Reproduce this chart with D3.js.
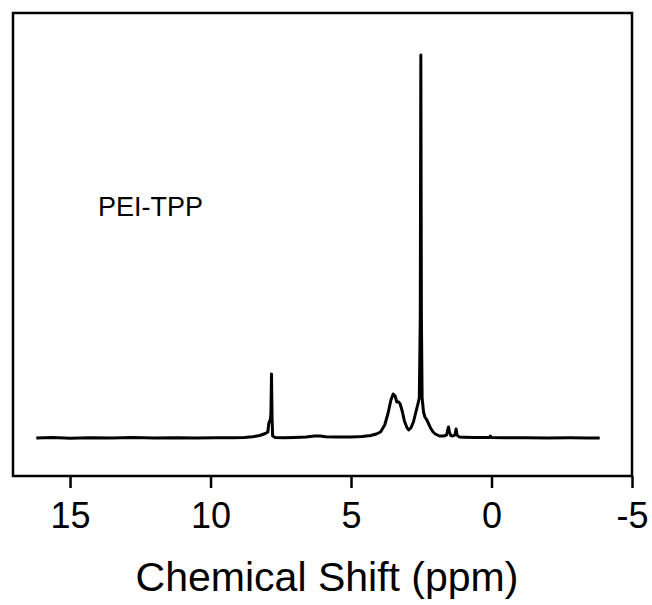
<!DOCTYPE html>
<html>
<head>
<meta charset="utf-8">
<script src="https://cdn.jsdelivr.net/npm/d3@7/dist/d3.min.js"></script>
<style>
  html, body { margin: 0; padding: 0; background: #fff; }
  svg { display: block; }
  text { font-family: "Liberation Sans", Arial, sans-serif; fill: #000; }
</style>
</head>
<body>
<svg id="chart" width="652" height="605"></svg>
<script>
// ---- data ----
const ppm = [16.2,15.6,15,14.3,13.5,12.8,12,11.2,10.5,9.8,9.2,8.8,8.5,8.25,8.05,7.96,7.93,7.9,7.87,7.85,7.83,7.81,7.79,7.7,7.4,7.0,6.6,6.3,6.1,5.9,5.5,5.0,4.6,4.3,4.1,3.95,3.8,3.68,3.58,3.5,3.43,3.37,3.3,3.25,3.17,3.1,3.02,2.95,2.87,2.78,2.7,2.62,2.57,2.535,2.515,2.495,2.47,2.42,2.37,2.3,2.25,2.17,2.08,2.0,1.85,1.7,1.6,1.56,1.53,1.5,1.45,1.38,1.3,1.26,1.23,1.15,1.0,0.6,0.2,0.07,0.04,0.01,-0.5,-1.2,-2,-2.8,-3.4,-3.85];
const intensity = [0,0.4,-0.2,0.3,0,0.4,-0.1,0.3,0,0.3,0.2,0.6,1.2,2.5,4.5,6,14,17,18,26,64,20,2,0.5,0.3,0.6,1,2,2,1.2,1,1,1.5,2.5,4,6,13,25,38,44,42,36,36,34,26,17,11,8,10,16,25,34,40,120,383,120,40,26,21,18,15,10,6,4,2,2,3,8,11,6,2.5,2,3,9,3,1,0.8,0.5,0.5,0.5,2,0.5,0.2,0.3,0,0.2,0,0];
const xTicks = [15, 10, 5, 0, -5];
const xDomain = [17.03, -5];
const yDomain = [-38, 425];
const sampleLabel = "PEI-TPP";
const xTitle = "Chemical Shift (ppm)";

// ---- layout ----
const svg = d3.select("#chart");
const mLeft = 13, mRight = 632, mTop = 13, mBottom = 476;

const x = d3.scaleLinear().domain(xDomain).range([mLeft, mRight]);
const y = d3.scaleLinear().domain(yDomain).range([mBottom, mTop]);

const data = ppm.map((p, i) => ({ p, v: intensity[i] }));

// frame
svg.append("rect")
  .attr("x", mLeft).attr("y", mTop)
  .attr("width", mRight - mLeft).attr("height", mBottom - mTop)
  .attr("fill", "none").attr("stroke", "#000").attr("stroke-width", 2.5);

// x axis
const xAxis = d3.axisBottom(x).tickValues(xTicks).tickSize(12).tickPadding(12)
  .tickFormat(d => String(d));
const gx = svg.append("g").attr("transform", `translate(0,${mBottom})`).call(xAxis);
gx.select(".domain").remove();
gx.selectAll(".tick line").attr("stroke", "#000").attr("stroke-width", 2.5);
gx.selectAll(".tick text")
  .attr("font-size", 36)
  .attr("font-family", "Liberation Sans, Arial, sans-serif")
  .attr("fill", "#000")
  .attr("dy", null).attr("y", 52);

// spectrum
const line = d3.line().x(d => x(d.p)).y(d => y(d.v)).curve(d3.curveLinear);
svg.append("path")
  .datum(data)
  .attr("d", line)
  .attr("fill", "none")
  .attr("stroke", "#000")
  .attr("stroke-width", 3)
  .attr("stroke-linejoin", "round");

// sample label
svg.append("text")
  .attr("x", 98).attr("y", 216)
  .attr("font-size", 27)
  .text(sampleLabel);

// axis title
svg.append("text")
  .attr("x", 327).attr("y", 591)
  .attr("text-anchor", "middle")
  .attr("font-size", 41)
  .text(xTitle);
</script>
</body>
</html>
